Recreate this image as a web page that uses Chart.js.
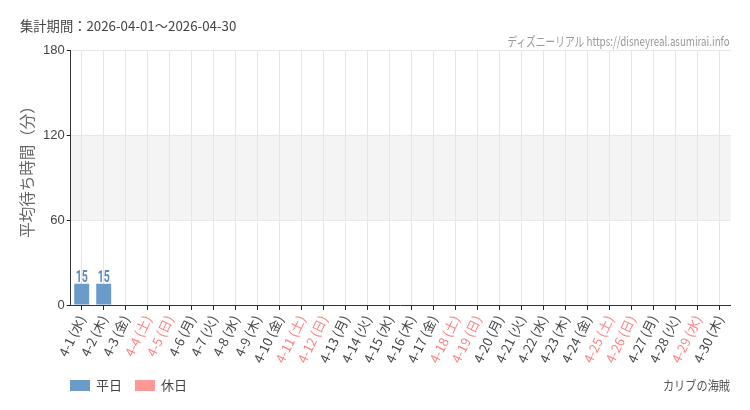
<!DOCTYPE html>
<html lang="ja">
<head>
<meta charset="utf-8">
<script src="https://cdn.jsdelivr.net/npm/chart.js@4"></script>
<style>
  html, body { margin: 0; padding: 0; background: #ffffff; }
  #wrap { position: relative; width: 750px; height: 410px; overflow: hidden; }
  #c { position: absolute; left: 0; top: 0; }
  .txt { position: absolute; white-space: nowrap; font-family: 'Noto Sans CJK JP', 'Noto Sans', sans-serif; }
  #period { left: 20px; top: 16px; font-size: 13.3px; color: #444; }
  #mark { right: 20px; top: 31px; font-size: 13px; color: #999; transform: scaleX(0.75); transform-origin: right center; }
  #attr { right: 20px; top: 375px; font-size: 13px; color: #555; transform: scaleX(0.86); transform-origin: right center; }
  .lg { position: absolute; top: 380px; width: 20px; height: 11px; }
  .lt { top: 375px; font-size: 13px; color: #444; }
</style>
</head>
<body>
<div id="wrap">
  <canvas id="c" width="750" height="410"></canvas>
  <div id="period" class="txt">集計期間：2026-04-01～2026-04-30</div>
  <div id="mark" class="txt">ディズニーリアル https://disneyreal.asumirai.info</div>
  <div class="lg" style="left:70px;background:#6b9bc9"></div>
  <div class="txt lt" style="left:96px">平日</div>
  <div class="lg" style="left:135px;background:#ff9797"></div>
  <div class="txt lt" style="left:161px">休日</div>
  <div id="attr" class="txt">カリブの海賊</div>
</div>
<script>
const days = ['4-1','4-2','4-3','4-4','4-5','4-6','4-7','4-8','4-9','4-10',
  '4-11','4-12','4-13','4-14','4-15','4-16','4-17','4-18','4-19','4-20',
  '4-21','4-22','4-23','4-24','4-25','4-26','4-27','4-28','4-29','4-30'];
const weekdayNames = ['水','木','金','土','日','月','火','水','木','金',
  '土','日','月','火','水','木','金','土','日','月',
  '火','水','木','金','土','日','月','火','水','木'];
const holidays = [false,false,false,true,true,false,false,false,false,false,
  true,true,false,false,false,false,false,true,true,false,
  false,false,false,false,true,true,false,false,true,false];
const waitTimes = [15,15,null,null,null,null,null,null,null,null,
  null,null,null,null,null,null,null,null,null,null,
  null,null,null,null,null,null,null,null,null,null];
const yTicks = [0,60,120,180];

const weekdayColor = '#6b9bc9';
const holidayColor = '#ff9797';
const labels = days.map((d, i) => d + ' (' + weekdayNames[i] + ')');

const bandPlugin = {
  id: 'band',
  beforeDraw(chart) {
    const {ctx, chartArea, scales} = chart;
    const y1 = scales.y.getPixelForValue(120);
    const y0 = scales.y.getPixelForValue(60);
    ctx.save();
    ctx.fillStyle = '#f4f4f4';
    ctx.fillRect(chartArea.left, y1, chartArea.right - chartArea.left, y0 - y1);
    ctx.restore();
  }
};
const valuePlugin = {
  id: 'values',
  afterDatasetsDraw(chart) {
    const {ctx} = chart;
    const meta = chart.getDatasetMeta(0);
    ctx.save();
    ctx.font = 'bold 16.5px Roboto, "Noto Sans", sans-serif';
    ctx.textAlign = 'center';
    ctx.textBaseline = 'alphabetic';
    meta.data.forEach((bar, i) => {
      const v = waitTimes[i];
      if (v === null || v === undefined) return;
      ctx.save();
      ctx.translate(bar.x, bar.y - 2);
      ctx.scale(0.64, 1);
      ctx.fillStyle = holidays[i] ? '#ff7f7f' : '#5a8bc0';
      ctx.fillText(String(v), 0, 0);
      ctx.restore();
    });
    ctx.restore();
  }
};

new Chart(document.getElementById('c'), {
  type: 'bar',
  data: {
    labels: labels,
    datasets: [{
      data: waitTimes,
      backgroundColor: holidays.map(h => h ? holidayColor : weekdayColor),
      barPercentage: 0.68,
      categoryPercentage: 1.0
    }]
  },
  options: {
    responsive: false,
    animation: false,
    devicePixelRatio: 1,
    layout: { padding: { left: 0, right: 19.3, top: 50, bottom: 0 } },
    plugins: { legend: { display: false }, tooltip: { enabled: false } },
    scales: {
      x: {
        offset: true,
        grid: { offset: false, color: '#e6e6e6', tickColor: '#222', tickLength: 5, drawOnChartArea: true },
        border: { color: '#333', width: 1 },
        ticks: {
          autoSkip: false, minRotation: 64, maxRotation: 64, padding: 3,
          font: { size: 13, family: "'Noto Sans CJK JP', sans-serif" },
          color: (c) => holidays[c.index] ? '#ff7f7f' : '#444'
        },
        afterFit(s) { s.height = 105; }
      },
      y: {
        min: 0, max: 180,
        afterBuildTicks(s) { s.ticks = yTicks.map(v => ({ value: v })); },
        grid: { color: '#e8e8e8', tickColor: '#222', tickLength: 4 },
        border: { color: '#333', width: 1 },
        ticks: { padding: 2, color: '#444', font: { size: 13, family: "'Liberation Sans', 'Noto Sans', sans-serif" } },
        title: {
          display: true, text: '　 平均待ち時間（分）', color: '#666',
          font: { size: 15.5, family: "'Noto Sans CJK JP', sans-serif" },
          padding: { top: 18, bottom: 0 }
        },
        afterFit(s) { s.width = 70.7; }
      }
    }
  },
  plugins: [bandPlugin, valuePlugin]
});
</script>
</body>
</html>
